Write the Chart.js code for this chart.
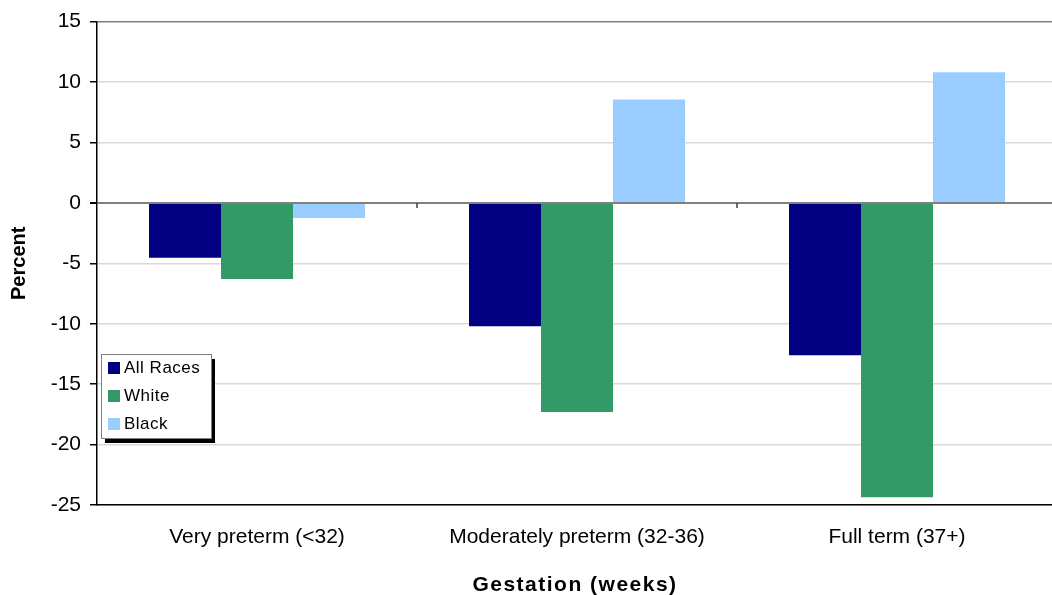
<!DOCTYPE html>
<html>
<head>
<meta charset="utf-8">
<script src="https://cdn.jsdelivr.net/npm/chart.js@4"></script>
<style>
  html, body { margin: 0; padding: 0; background: #fff; overflow: hidden; }
  canvas { display: block; }
</style>
</head>
<body>
<canvas id="gestChart" width="1062" height="595"></canvas>
<script>
const categories = ['Very preterm (<32)', 'Moderately preterm (32-36)', 'Full term (37+)'];
const allRaces = [-4.55, -10.2, -12.6];
const white = [-6.3, -17.3, -24.35];
const black = [-1.25, 8.55, 10.8];
const seriesNames = ['All Races', 'White', 'Black'];
const seriesColors = ['#000080', '#339966', '#99CCFF'];
const xTitle = 'Gestation (weeks)';

const FONT = '"Liberation Sans", Arial, sans-serif';

// small tick marks hanging under the zero line between categories
const zeroTicks = {
  id: 'zeroTicks',
  afterDatasetsDraw(chart) {
    const xs = chart.scales.x, ys = chart.scales.y;
    const c = chart.ctx;
    const y0 = ys.getPixelForValue(0);
    c.save();
    c.strokeStyle = '#404040';
    c.lineWidth = 1.5;
    for (let i = 0; i < categories.length - 1; i++) {
      const bx = (xs.getPixelForTick(i) + xs.getPixelForTick(i + 1)) / 2;
      c.beginPath();
      c.moveTo(bx, y0);
      c.lineTo(bx, y0 + 5);
      c.stroke();
    }
    c.restore();
  }
};

// x title drawn by hand so it can get the wide letter spacing of the original
const spacedTitle = {
  id: 'spacedTitle',
  afterDraw(chart) {
    const c = chart.ctx;
    const xs = chart.scales.x;
    c.save();
    c.font = 'bold 21px ' + FONT;
    c.letterSpacing = '1.5px';
    c.fillStyle = '#000';
    c.textAlign = 'center';
    c.textBaseline = 'middle';
    c.fillText(xTitle, (xs.left + xs.right) / 2 - 2, 585);
    c.restore();
  }
};

// boxed legend with drop shadow, sitting inside the plot
const boxLegend = {
  id: 'boxLegend',
  afterDraw(chart) {
    const c = chart.ctx;
    const x = 101, y = 354, w = 110, h = 84;
    c.save();
    c.fillStyle = '#000';
    c.fillRect(x + 4, y + 5, w, h);
    c.fillStyle = '#fff';
    c.fillRect(x, y, w, h);
    c.strokeStyle = '#808080';
    c.lineWidth = 1;
    c.strokeRect(x + 0.5, y + 0.5, w, h);
    c.font = '17px ' + FONT;
    c.letterSpacing = '0.5px';
    c.textBaseline = 'middle';
    chart.data.datasets.forEach((ds, i) => {
      const cy = y + 14 + i * 28;
      c.fillStyle = ds.backgroundColor;
      c.fillRect(x + 7, cy - 6, 12, 12);
      c.fillStyle = '#000';
      c.fillText(ds.label, x + 23, cy);
    });
    c.restore();
  }
};

const ctx = document.getElementById('gestChart').getContext('2d');
const chart = new Chart(ctx, {
  type: 'bar',
  data: {
    labels: categories,
    datasets: [
      { label: seriesNames[0], data: allRaces, backgroundColor: seriesColors[0] },
      { label: seriesNames[1], data: white, backgroundColor: seriesColors[1] },
      { label: seriesNames[2], data: black, backgroundColor: seriesColors[2] }
    ]
  },
  options: {
    responsive: false,
    animation: false,
    layout: { padding: { top: 20, right: 5, left: 0, bottom: 0 } },
    datasets: {
      bar: { categoryPercentage: 0.675, barPercentage: 1.0, borderWidth: 0 }
    },
    plugins: {
      legend: { display: false },
      tooltip: { enabled: false }
    },
    scales: {
      x: {
        grid: { display: false },
        border: { display: true, color: '#000', width: 1.5 },
        ticks: {
          color: '#000',
          padding: 12,
          maxRotation: 0,
          font: { family: FONT, size: 21 }
        },
        afterFit(scale) { scale.height = 90; }
      },
      y: {
        min: -25,
        max: 15,
        ticks: {
          stepSize: 5,
          color: '#000',
          padding: 9,
          font: { family: FONT, size: 21 }
        },
        grid: {
          color: c => (c.tick && (c.tick.value === 0 || c.tick.value === 15)) ? '#808080' : '#d9d9d9',
          lineWidth: c => (c.tick && c.tick.value === 0) ? 2 : 1.5,
          tickColor: '#000',
          tickLength: 7
        },
        border: { display: true, color: '#000', width: 1.5 },
        title: {
          display: true,
          text: 'Percent',
          color: '#000',
          padding: { top: 7, bottom: 4 },
          font: { family: FONT, size: 20, weight: 'bold' }
        },
        afterFit(scale) { scale.width = 97; }
      }
    }
  },
  plugins: [zeroTicks, spacedTitle, boxLegend]
});
</script>
</body>
</html>
